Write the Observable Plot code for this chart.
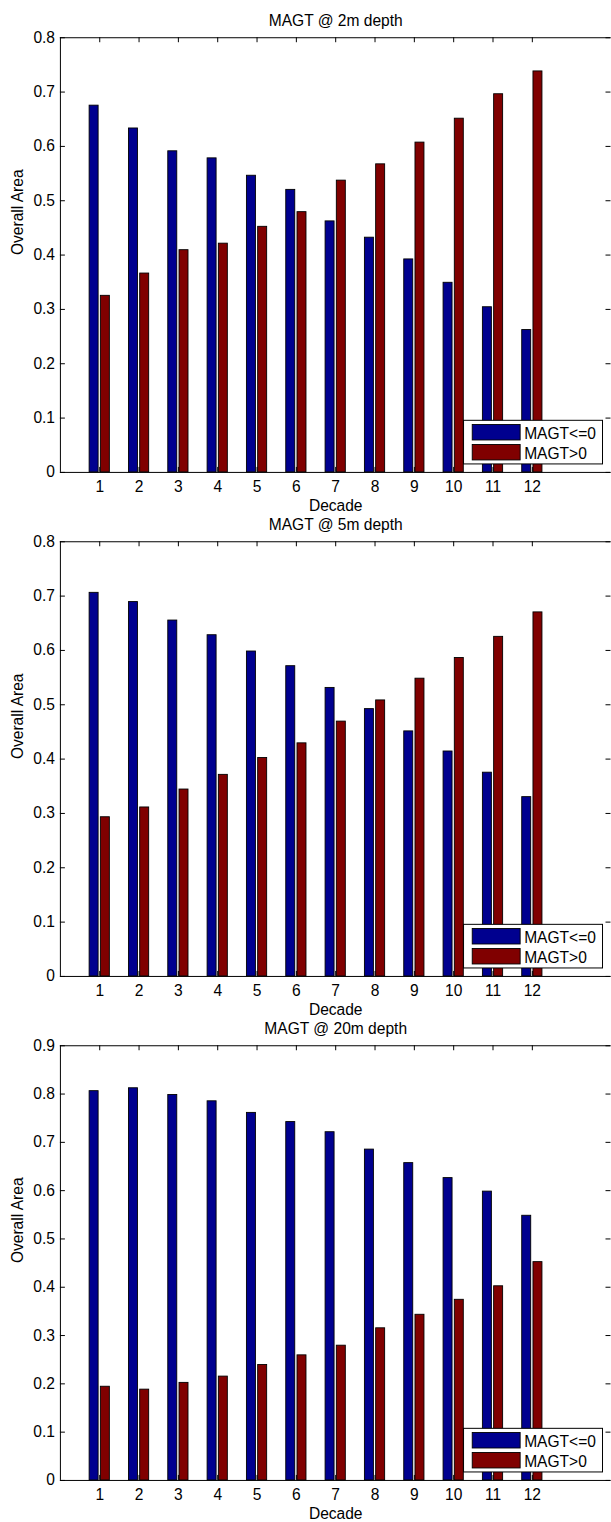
<!DOCTYPE html>
<html>
<head>
<meta charset="utf-8">
<script src="https://cdn.jsdelivr.net/npm/d3@7"></script>
<script src="https://cdn.jsdelivr.net/npm/@observablehq/plot@0.6"></script>
<style>
  html, body { margin: 0; padding: 0; background: white; }
  #wrap { position: relative; width: 611px; height: 1522px; overflow: hidden; background: white; }
  #wrap svg { position: absolute; left: 0; }
</style>
</head>
<body>
<div id="wrap"></div>
<script>
// ---- data ----
const decades = [1, 2, 3, 4, 5, 6, 7, 8, 9, 10, 11, 12];
const seriesNames = ["MAGT<=0", "MAGT>0"];
const titles = ["MAGT @ 2m depth", "MAGT @ 5m depth", "MAGT @ 20m depth"];

const frozen2m = [0.675, 0.633, 0.591, 0.578, 0.546, 0.520, 0.462, 0.432, 0.392, 0.349, 0.304, 0.262];
const thawed2m = [0.325, 0.366, 0.409, 0.421, 0.452, 0.479, 0.537, 0.567, 0.607, 0.651, 0.696, 0.738];

const frozen5m = [0.706, 0.689, 0.655, 0.628, 0.598, 0.571, 0.531, 0.492, 0.451, 0.414, 0.375, 0.330];
const thawed5m = [0.293, 0.311, 0.344, 0.371, 0.402, 0.429, 0.469, 0.508, 0.548, 0.586, 0.625, 0.670];

const frozen20m = [0.806, 0.812, 0.798, 0.785, 0.761, 0.742, 0.721, 0.685, 0.657, 0.626, 0.598, 0.548];
const thawed20m = [0.194, 0.188, 0.202, 0.215, 0.239, 0.259, 0.279, 0.315, 0.343, 0.374, 0.402, 0.452];

const yTicks08 = [0, 0.1, 0.2, 0.3, 0.4, 0.5, 0.6, 0.7, 0.8];
const yTicks09 = [0, 0.1, 0.2, 0.3, 0.4, 0.5, 0.6, 0.7, 0.8, 0.9];

const xLabel = "Decade";
const yLabel = "Overall Area";
const colors = ["#00008f", "#800000"];

// ---- layout ----
const FONT = "'Liberation Sans', Arial, Helvetica, sans-serif";
const FS = 15.6;
const W = 612;
const ML = 60, MR = 0.5;
const PH = 435.4;            // plot-area height
const panels = [
  {frozen: frozen2m, thawed: thawed2m, yTicks: yTicks08, top: 0, h: 518, mt: 37.3},
  {frozen: frozen5m, thawed: thawed5m, yTicks: yTicks08, top: 518, h: 504, mt: 23.3},
  {frozen: frozen20m, thawed: thawed20m, yTicks: yTicks09, top: 1022, h: 500, mt: 23.3}
];
const groupW = 2 / 3.5;            // MATLAB grouped bar layout
const barHalf = groupW / 2 * 0.8 / 2;
const offsets = [-groupW / 4, groupW / 4];

const wrap = document.getElementById("wrap");

panels.forEach((p, k) => {
  const rows = [];
  decades.forEach((d, i) => {
    rows.push({decade: d, series: seriesNames[0], s: 0, value: p.frozen[i]});
    rows.push({decade: d, series: seriesNames[1], s: 1, value: p.thawed[i]});
  });
  const mb = p.h - p.mt - PH;
  const plotW = W - ML - MR;
  const ymax = p.yTicks[p.yTicks.length - 1];

  const chart = Plot.plot({
    width: W,
    height: p.h,
    marginLeft: ML,
    marginRight: MR,
    marginTop: p.mt,
    marginBottom: mb,
    style: {fontFamily: FONT, fontSize: FS + "px", background: "transparent", color: "black", overflow: "visible"},
    x: {domain: [0, 14]},
    y: {domain: [0, ymax]},
    marks: [
      Plot.rect(rows, {
        x1: d => d.decade + offsets[d.s] - barHalf,
        x2: d => d.decade + offsets[d.s] + barHalf,
        y1: () => 0,
        y2: "value",
        fill: d => colors[d.s],
        stroke: "black",
        strokeWidth: 0.9
      }),
      // axes box: top, bottom, left (right edge falls outside the picture)
      Plot.ruleY([0, ymax], {stroke: "black", strokeWidth: 1}),
      Plot.ruleX([0], {stroke: "black", strokeWidth: 1}),
      // inward ticks on four sides
      Plot.tickX(decades, {x: d => d, insetTop: PH - 5, stroke: "black"}),
      Plot.tickX(decades, {x: d => d, insetBottom: PH - 5, stroke: "black"}),
      Plot.tickY(p.yTicks, {y: d => d, insetRight: plotW - 5, stroke: "black"}),
      Plot.tickY(p.yTicks, {y: d => d, insetLeft: plotW - 5, stroke: "black"}),
      Plot.axisX(decades, {tickSize: 0, tickPadding: 8.3, label: null, tickFormat: d => String(d), fill: "black"}),
      Plot.axisY(p.yTicks, {tickSize: 0, tickPadding: 5.4, label: null, tickFormat: d => String(d), fill: "black"}),
      Plot.text([titles[k]], {text: d => d, frameAnchor: "top", lineAnchor: "middle", dy: -16.3, fill: "black"}),
      Plot.text([xLabel], {text: d => d, frameAnchor: "bottom", lineAnchor: "middle", dy: 34, fill: "black"}),
      Plot.text([yLabel], {text: d => d, frameAnchor: "left", rotate: -90, lineAnchor: "middle", dx: -42, fill: "black"})
    ]
  });
  chart.style.top = p.top + "px";

  // legend (MATLAB style, lower right inside axes)
  const axisY0 = p.mt + PH;
  const g = d3.select(chart).append("g").attr("font-family", FONT).attr("font-size", FS);
  g.append("rect")
    .attr("x", 464.3).attr("y", axisY0 - 51.7)
    .attr("width", 139.2).attr("height", 43.7)
    .attr("fill", "white").attr("stroke", "black").attr("stroke-width", 1);
  seriesNames.forEach((name, i) => {
    g.append("rect")
      .attr("x", 473).attr("y", axisY0 - 47.5 + i * 20)
      .attr("width", 48).attr("height", 15.5)
      .attr("fill", colors[i]).attr("stroke", "black").attr("stroke-width", 0.9);
    g.append("text")
      .attr("x", 525).attr("y", axisY0 - 33.4 + i * 20)
      .attr("text-anchor", "start").attr("fill", "black")
      .text(name);
  });

  wrap.appendChild(chart);
});
</script>
</body>
</html>
